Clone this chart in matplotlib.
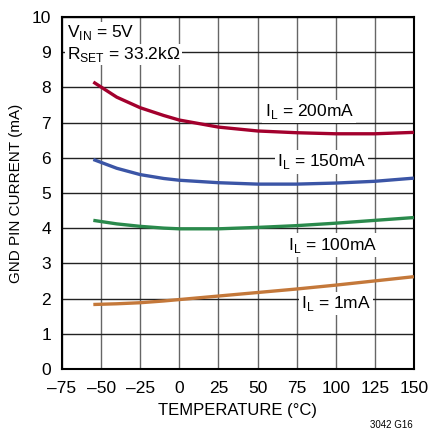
import matplotlib
matplotlib.use("Agg")
import matplotlib.pyplot as plt
import numpy as np

plt.rcParams["font.family"] = ["Liberation Sans", "DejaVu Sans"]
plt.rcParams["mathtext.fontset"] = "custom"
plt.rcParams["mathtext.rm"] = "Liberation Sans"

# temperature (°C) and GND pin current (mA) per load
temp = [-55, -40, -25, -10, 0, 25, 50, 75, 100, 125, 150]
i_200 = [8.15, 7.72, 7.42, 7.2, 7.07, 6.87, 6.76, 6.71, 6.68, 6.68, 6.72]
i_150 = [5.95, 5.7, 5.52, 5.41, 5.36, 5.29, 5.25, 5.25, 5.28, 5.33, 5.42]
i_100 = [4.22, 4.12, 4.05, 4.0, 3.98, 3.98, 4.02, 4.07, 4.14, 4.22, 4.3]
i_1 = [1.83, 1.85, 1.88, 1.93, 1.97, 2.07, 2.17, 2.27, 2.38, 2.5, 2.62]

series = [
    (i_200, "#a3002d", "I$_\\mathregular{L}$ = 200mA", 83, 7.32),
    (i_150, "#3b55a6", "I$_\\mathregular{L}$ = 150mA", 91, 5.88),
    (i_100, "#2a8a4c", "I$_\\mathregular{L}$ = 100mA", 98, 3.52),
    (i_1, "#c4783a", "I$_\\mathregular{L}$ = 1mA", 100, 1.85),
]

fig = plt.figure(figsize=(4.28, 4.34), dpi=100)
ax = fig.add_axes([0.145, 0.15, 0.822, 0.811])

for y, color, label, lx, ly in series:
    ax.plot(temp, y, color=color, linewidth=2.4, solid_capstyle="butt", zorder=3)
    ax.text(lx, ly, label, ha="center", va="center", fontsize=12.5,
            bbox=dict(facecolor="white", edgecolor="none", pad=1.5), zorder=4)

ax.text(-72, 9.55, "V$_\\mathregular{IN}$ = 5V", fontsize=12.5, va="center",
        ha="left", bbox=dict(facecolor="white", edgecolor="none", pad=1.0), zorder=4)
ax.text(-72, 8.93, "R$_\\mathregular{SET}$ = 33.2k\u03a9", fontsize=12.5, va="center",
        ha="left", bbox=dict(facecolor="white", edgecolor="none", pad=1.0), zorder=4)

ax.set_xlim(-75, 150)
ax.set_ylim(0, 10)
ax.set_xticks(np.arange(-75, 151, 25))
ax.set_yticks(np.arange(0, 11, 1))
ax.set_xticklabels([str(t).replace("-", "\u2013") for t in range(-75, 151, 25)])
ax.grid(True, axis="x", color="#666666", linewidth=1.0)
ax.grid(True, axis="y", color="#222222", linewidth=1.0)
ax.set_axisbelow(True)
ax.tick_params(length=0, labelsize=12.5)
ax.tick_params(axis="x", pad=9)
ax.tick_params(axis="y", pad=8)
for s in ax.spines.values():
    s.set_linewidth(1.5)
    s.set_color("black")

ax.set_xlabel("TEMPERATURE (°C)", fontsize=12, labelpad=5)
ax.set_ylabel("GND PIN CURRENT (mA)", fontsize=11, labelpad=6)
fig.text(0.965, 0.01, "3042 G16", fontsize=7, ha="right", va="bottom")

fig.savefig("out.png", dpi=100)
